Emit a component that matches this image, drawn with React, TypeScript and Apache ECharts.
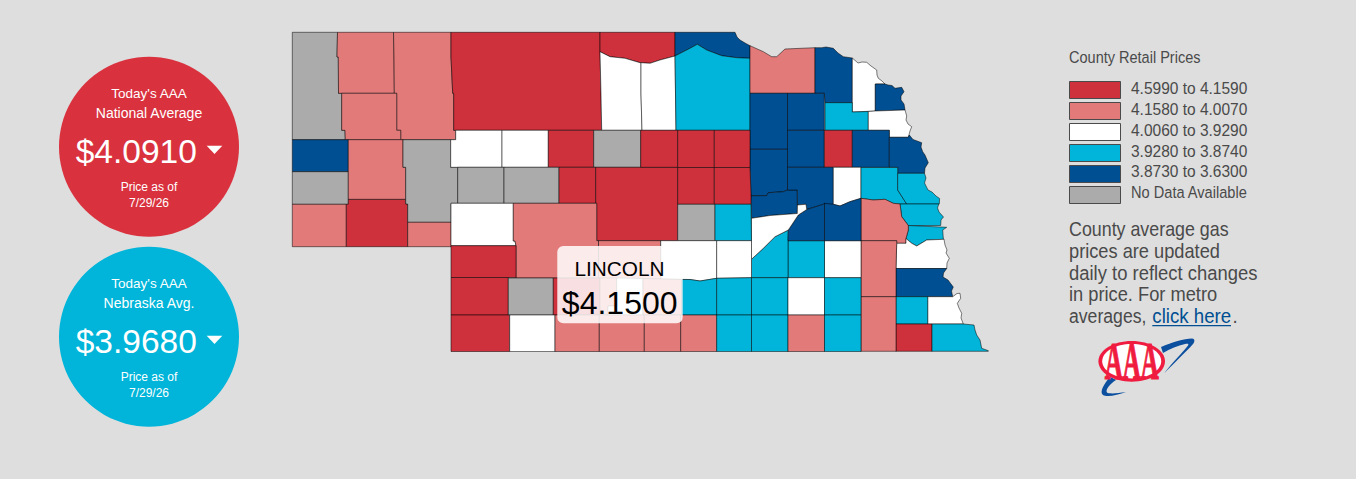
import React, { useEffect, useRef } from "react";
import * as echarts from "echarts";

// ---------- Data ----------
const bandLabels = ["4.5990 to 4.1590", "4.1580 to 4.0070", "4.0060 to 3.9290", "3.9280 to 3.8740", "3.8730 to 3.6300", "No Data Available"];
const bandMax = [4.599, 4.158, 4.006, 3.928, 3.873];
const bandMin = [4.159, 4.007, 3.929, 3.874, 3.63];
const bandColors = ["#CE303C", "#E27A7A", "#FFFFFF", "#00B5D9", "#004F92", "#ABABAB"];

const redCounties = ["Cherry", "Keya Paha", "Cheyenne", "Thomas", "Logan", "Custer", "Loup", "Garfield", "Wheeler", "Valley", "Greeley", "Stanton", "Perkins", "Chase", "Frontier", "Dundy", "Pawnee"];
const redPrices = [4.31, 4.27, 4.22, 4.24, 4.2, 4.26, 4.18, 4.21, 4.19, 4.23, 4.17, 4.2, 4.25, 4.28, 4.19, 4.3, 4.22];
const pinkCounties = ["Dawes", "Sheridan", "Box Butte", "Morrill", "Kimball", "Deuel", "Lincoln", "Dawson", "Gosper", "Kearney", "Red Willow", "Furnas", "Harlan", "Franklin", "Knox", "Saunders", "Lancaster", "Gage", "Thayer"];
const pinkPrices = [4.09, 4.12, 4.06, 4.1, 4.08, 4.04, 4.15, 4.03, 4.05, 4.02, 4.09, 4.07, 4.06, 4.04, 4.05, 4.03, 4.02, 4.05, 4.04];
const whiteCounties = ["Brown", "Rock", "Grant", "Hooker", "Keith", "Buffalo", "Hall", "Merrick", "Phelps", "Hitchcock", "Colfax", "Dixon", "Thurston", "Seward", "Saline", "Cass", "Nemaha"];
const whitePrices = [3.98, 3.97, 3.99, 3.96, 3.98, 3.95, 3.94, 3.96, 3.97, 3.99, 3.95, 3.96, 3.94, 3.97, 3.95, 3.96, 3.98];
const cyanCounties = ["Holt", "Howard", "Wayne", "Dodge", "Washington", "Douglas", "Sarpy", "Hamilton", "York", "Adams", "Clay", "Fillmore", "Saline East", "Webster", "Nuckolls", "Jefferson", "Johnson", "Richardson"];
const cyanPrices = [3.9, 3.91, 3.89, 3.88, 3.9, 3.89, 3.92, 3.91, 3.9, 3.89, 3.88, 3.9, 3.91, 3.92, 3.89, 3.9, 3.88, 3.91];
const navyCounties = ["Scotts Bluff", "Boyd", "Cedar", "Dakota", "Antelope", "Pierce", "Madison", "Cuming", "Burt", "Boone", "Nance", "Platte", "Polk", "Butler", "Otoe"];
const navyPrices = [3.8, 3.84, 3.82, 3.79, 3.85, 3.83, 3.78, 3.81, 3.8, 3.84, 3.83, 3.77, 3.82, 3.81, 3.79];
const noDataCounties = ["Sioux", "Banner", "Garden", "Blaine", "Arthur", "McPherson", "Sherman", "Hayes"];

const nationalAverage = "$4.0910";
const stateAverage = "$3.9680";
const priceDate = "7/29/26";
const hoverCounty = "LINCOLN";
const hoverPrice = "$4.1500";
const paragraphLines = ["County average gas", "prices are updated", "daily to reflect changes", "in price. For metro"];

// ---------- Map geometry (outlines of the counties, in the map's own plane) ----------
const countyOutlines: Record<string, number[][]> = {
  Sioux: [[292.3,32.3],[337.5,32.3],[337,57],[338.3,57],[338.5,93.3],[341.7,93.3],[341.7,130.3],[345,130.3],[345.3,139.7],[292.3,139.7]],
  Dawes: [[337.5,32.3],[393.5,32.3],[394,57],[394.3,93.3],[338.5,93.3],[338.3,57],[337,57]],
  Sheridan: [[393.5,32.3],[451,32.3],[451,57],[452.7,93.3],[453.7,93.3],[453.7,130.3],[455.7,130.3],[455.7,139.7],[400.7,139.7],[400.7,130.3],[396.7,130.3],[396.7,93.3],[394.3,93.3],[394,57]],
  "Box Butte": [[341.7,93.3],[396.7,93.3],[396.7,130.3],[400.7,130.3],[400.7,139.7],[345.3,139.7],[345,130.3],[341.7,130.3]],
  Cherry: [[451,32.3],[600,32.3],[600,51.7],[601,94],[601.7,130.3],[453.7,130.3],[453.7,93.3],[452.7,93.3],[451,57]],
  "Keya Paha": [[600,32.3],[675,32.3],[675,56],[660,60],[650,63.3],[640,62.7],[625,58.3],[610,56.7],[600,51.7]],
  Brown: [[600,51.7],[610,56.7],[625,58.3],[640,62.7],[641,62.7],[641,94],[642,130.3],[601.7,130.3],[601,94]],
  Rock: [[641,62.7],[650,63.3],[660,60],[675,56],[676,130.3],[642,130.3],[641,94]],
  Boyd: [[675,32.3],[735,32.3],[737,37],[740,40],[745,43],[750,45.7],[750,58.3],[736.7,57.7],[721.7,55.7],[706.7,50],[697.3,44.3],[690,48.3],[675,56]],
  Holt: [[675,56],[690,48.3],[697.3,44.3],[706.7,50],[721.7,55.7],[736.7,57.7],[750,58.3],[750,130.3],[676,130.3]],
  Knox: [[750,45.7],[763.3,51.7],[771.7,56.7],[776.7,56.7],[785,49],[815,47.7],[815,93.3],[750,93.3]],
  Cedar: [[815,47.7],[821.7,47.7],[826,47],[833.3,48.3],[838,53],[843.3,56.7],[852.3,58],[852.3,102.7],[825,102.7],[824.3,93.3],[815,93.3]],
  Dixon: [[852.3,58],[858,63],[862,62],[866.7,62.3],[871,66],[876.7,70],[877,75],[878.3,78.3],[882,81],[885,84],[875.3,84],[875.3,111],[852.3,112]],
  Dakota: [[875.3,84],[885,84],[888,85],[892,85.5],[895,88.3],[901.7,87.3],[904,91.7],[901,96],[901,100],[904,104],[905,110],[875.3,111]],
  Wayne: [[825,102.7],[852.3,102.7],[852.3,112],[868.3,111.5],[868.3,130.3],[825,130.3]],
  Thurston: [[868.3,111.5],[875.3,111],[905,110],[906.7,116],[906,120],[908,124],[911.7,126.7],[910,131],[908.3,137.3],[889.3,137.3],[889.3,130.3],[868.3,130.3]],
  Antelope: [[750,93.3],[787.5,93.3],[787.5,149.3],[750,149.3]],
  Pierce: [[787.5,93.3],[824.3,93.3],[824.3,130.3],[787.5,130.3]],
  Madison: [[787.5,130.3],[824.3,130.3],[824.3,167.3],[787.5,167.3]],
  Stanton: [[824.3,130.3],[852.3,130.3],[852.3,167.3],[824.3,167.3]],
  Cuming: [[852.3,130.3],[889.3,130.3],[889.3,167.3],[852.3,167.3]],
  Burt: [[889.3,137.3],[908.3,137.3],[909.3,135],[913,139.5],[921.7,142.7],[921,147],[922.7,151.7],[925,155],[928.3,162.7],[925,168],[924.5,173.3],[897.7,173.3],[897.7,167.3],[889.3,167.3]],
  Boone: [[750,149.3],[787.5,149.3],[787.5,190],[783.3,191.7],[768.3,192.7],[766.7,195.7],[751,195.7],[750,167.5]],
  Nance: [[751,195.7],[766.7,195.7],[768.3,192.7],[783.3,191.7],[787.5,190],[797.3,190],[797.3,213.5],[770,215.5],[751.5,218.3]],
  Platte: [[787.5,167.3],[833.3,167.3],[833.3,204.3],[823.3,204.3],[806.7,209.5],[806,204.3],[797.5,205],[797.3,190],[787.5,190]],
  Colfax: [[833.3,167.3],[861,167.3],[861,198.3],[850,201.7],[840,206],[833.3,204.3]],
  Dodge: [[861,167.5],[897.7,167.5],[897.7,190],[906.7,204],[900,204],[893.3,203.3],[885,199.3],[873.3,200],[861,198.3]],
  Washington: [[897.7,173.3],[924.5,173.3],[926,178],[924.5,183],[928,190],[932,192],[936,196],[939.6,198.5],[939.3,204],[906.7,204],[897.7,190]],
  Douglas: [[900,204],[938.8,204],[937.5,208],[939,212],[943.5,217],[941,220],[940.7,225.5],[908.3,225.5],[901.7,216.7]],
  Sarpy: [[908.3,225.5],[946.7,227.3],[942.7,230],[943.3,238.3],[944,239.3],[926.7,240],[916.7,246],[911.7,243.3],[906,238.5],[908.3,230]],
  Saunders: [[861,198.3],[873.3,200],[885,199.3],[893.3,203.3],[900,204],[901.7,216.7],[908.3,225.5],[908.3,230],[906,238.5],[906,243.3],[896.7,243.3],[896.7,240.7],[861,240.7]],
  Cass: [[896.7,243.3],[906,243.3],[906,238.5],[911.7,243.3],[916.7,246],[926.7,240],[944,239.3],[945,245],[947,250],[946,253],[949.3,258.3],[947,263],[946.7,268.5],[896,268.5]],
  Otoe: [[896,268.5],[946.7,268.5],[943.5,273],[943,277],[948,280],[951,284],[953.3,287],[951.5,291],[952.7,296.7],[896,296.7]],
  Nemaha: [[927.7,296.7],[952.7,296.7],[957,293.5],[960,293.3],[960.7,298.3],[957.3,303.3],[959,308],[961.7,313.3],[961,318],[963.3,324],[927.7,324]],
  Johnson: [[896,296.7],[927.7,296.7],[927.7,324],[896,324]],
  Pawnee: [[896,324],[932,324],[932,351.3],[896,351.3]],
  Richardson: [[932,324],[963.3,324],[974,325],[975,330],[976.7,335],[978,337],[980,340],[981.7,348.3],[988.3,350.7],[988.3,351.3],[932,351.3]],
  Lancaster: [[861,240.7],[896.7,240.7],[896.7,243.3],[896,268.5],[896,296.7],[861,296.7]],
  Gage: [[861,296.7],[896,296.7],[896,351.3],[861,351.3]],
  Seward: [[824.5,240.7],[861,240.7],[861,277.7],[824.5,277.7]],
  York: [[788,240.7],[824.5,240.7],[824.5,277.7],[788,277.7]],
  Hamilton: [[751.5,259.3],[763.3,248.3],[775,236.7],[788.3,230],[788,240.7],[788,277.7],[751.5,277.7]],
  Butler: [[824.5,203.3],[833.3,204.3],[840,206],[850,201.7],[861,198.3],[861,240.7],[824.5,240.7]],
  Polk: [[788.3,230],[798.3,215],[806.7,209.5],[823.3,204.3],[824.5,203.3],[824.5,240.7],[788,240.7]],
  Merrick: [[751.5,218.3],[770,215.5],[797.3,213.5],[797.5,205],[806,204.3],[806.7,209.5],[798.3,215],[788.3,230],[775,236.7],[763.3,248.3],[751.5,259.3]],
  "Scotts Bluff": [[292.3,139.7],[348.3,139.7],[348.3,171.7],[292.3,171.7]],
  Banner: [[292.3,171.7],[348.3,171.7],[348.3,204.3],[292.3,204.3]],
  Kimball: [[292.3,204.3],[346.3,204.3],[346.3,246.7],[292.3,246.7]],
  Cheyenne: [[348.3,199.3],[405.7,199.3],[405.7,204],[407.7,204],[407.7,246.7],[346.3,246.7],[346.3,204.3],[348.3,204.3]],
  Morrill: [[348.3,139.7],[403,139.7],[403,167.3],[405.7,167.3],[405.7,199.3],[348.3,199.3]],
  Garden: [[403,139.7],[450.7,139.7],[450.7,167.3],[457.7,167.3],[457.7,203.3],[451,203.3],[451,222.3],[407.7,222.3],[407.7,204],[405.7,204],[405.7,167.3],[403,167.3]],
  Deuel: [[407.7,222.3],[451,222.3],[451,246.7],[407.7,246.7]],
  Grant: [[455.7,130.3],[502,130.3],[502,167.3],[450.7,167.3],[450.7,139.7],[455.7,139.7]],
  Hooker: [[502,130.3],[548.3,130.3],[548.3,167.3],[502,167.3]],
  Thomas: [[548.3,130.3],[593.7,130.3],[593.7,167.3],[548.3,167.3]],
  Blaine: [[593.7,130.3],[640.7,130.3],[640.7,167.3],[593.7,167.3]],
  Arthur: [[457.7,167.3],[504,167.3],[504,203.3],[457.7,203.3]],
  McPherson: [[504,167.3],[559,167.3],[559,203.3],[504,203.3]],
  Logan: [[559,167.3],[595.7,167.3],[595.7,203.3],[559,203.3]],
  Custer: [[595.7,167.3],[677.7,167.3],[677.7,240.7],[596.7,240.7],[596.7,203.3],[595.7,203.3]],
  Loup: [[640.7,130.3],[677.7,130.3],[677.7,167.3],[640.7,167.3]],
  Garfield: [[677.7,130.3],[714.3,130.3],[714.3,167.5],[677.7,167.5]],
  Wheeler: [[714.3,130.3],[750,130.3],[750,167.5],[714.3,167.5]],
  Valley: [[677.7,167.5],[714.3,167.5],[714.3,204.3],[677.7,204.3]],
  Greeley: [[714.3,167.5],[750,167.5],[751,195.7],[751,204.3],[714.3,204.3]],
  Sherman: [[677.7,204.3],[715,204.3],[715,240.7],[677.7,240.7]],
  Howard: [[715,204.3],[751,204.3],[751.5,240.7],[715,240.7]],
  Keith: [[451,203.3],[513.3,203.3],[513.3,241],[515,241],[516,245.7],[451,245.7]],
  Lincoln: [[513.3,203.3],[596.7,203.3],[596.7,240.7],[598.5,240.7],[598.5,278],[516,278],[516,245.7],[515,241],[513.3,241]],
  Dawson: [[598.5,240.7],[660.7,240.7],[661,279],[598.5,278]],
  Buffalo: [[660.7,240.7],[716.7,240.7],[716.7,278.3],[700,281],[690,279.5],[661,279]],
  Hall: [[716.7,240.7],[751.5,240.7],[751.5,277.7],[716.7,278.3]],
  Perkins: [[451,245.7],[516,245.7],[516,277.5],[451,277.5]],
  Chase: [[451,277.5],[508.3,277.5],[508.3,315],[451,315]],
  Hayes: [[508.3,278],[553.3,278],[553.3,315],[508.3,315]],
  Frontier: [[553.3,278],[600,278],[600,315],[553.3,315]],
  Gosper: [[600,278],[616.7,278],[616.7,306],[608,306],[608,315],[600,315]],
  Phelps: [[616.7,278],[643,278.5],[643,315],[608,315],[608,306],[616.7,306]],
  Kearney: [[643,278.5],[681.7,279.5],[681.7,315],[643,315]],
  Adams: [[681.7,279.5],[690,279.5],[700,281],[716.7,278.3],[716.7,315],[681.7,315]],
  Clay: [[716.7,278.3],[751.5,277.7],[751.5,315],[716.7,315]],
  Fillmore: [[751.5,277.7],[788,277.7],[788,315],[751.5,315]],
  Saline: [[788,277.7],[824.5,277.7],[824.5,315],[788,315]],
  "Saline East": [[824.5,277.7],[861,277.7],[861,315],[824.5,315]],
  Dundy: [[451,315],[509.7,315],[509.7,351.5],[451,351.5]],
  Hitchcock: [[509.7,315],[555,315],[555,351.5],[509.7,351.5]],
  "Red Willow": [[555,315],[599.3,315],[599.3,351.5],[555,351.5]],
  Furnas: [[599.3,315],[644.3,315],[644.3,351.5],[599.3,351.5]],
  Harlan: [[644.3,315],[680.7,315],[680.7,351.5],[644.3,351.5]],
  Franklin: [[680.7,315],[716.7,315],[716.7,351.5],[680.7,351.5]],
  Webster: [[716.7,315],[751.5,315],[751.5,351.5],[716.7,351.5]],
  Nuckolls: [[751.5,315],[788,315],[788,351.5],[751.5,351.5]],
  Thayer: [[788,315],[824.5,315],[824.5,351.5],[788,351.5]],
  Jefferson: [[824.5,315],[861,315],[861,351.5],[824.5,351.5]],
};

const swooshPath =
  "M1161,347 C1172,342 1184,339 1192,338.5 C1195,338.5 1195,342 1193,344 C1186,352 1174,363 1164,373.6 C1173,362 1182,353 1188,345.5 C1189,343.5 1188,343.5 1185,344 C1178,345.5 1170,349 1163,353 Z " +
  "M1110,376.7 C1104,384 1099,392 1103,395 C1107,397.5 1118,395 1126,392 C1117,393.5 1109,394 1107,392.5 C1105,390 1110,384 1116,380 Z";

const INK = "#4A4A4A";
const SANS = '"Liberation Sans", Arial, sans-serif';

function textEl(text: string, x: number, y: number, font: string, fill: string, textAlign = "left") {
  return { type: "text", z: 100, silent: true, style: { text, x, y, font, fill, textAlign, textVerticalAlign: "middle" } };
}

// Condensed text: no condensed face is installed, so the regular face is narrowed.
function narrowText(text: string, x: number, y: number, size: number, fill: string, scaleX: number) {
  return { type: "text", z: 100, silent: true, x, y, scaleX, style: { text, x: 0, y: 0, font: `${size}px ${SANS}`, fill, textAlign: "left", textVerticalAlign: "middle" } };
}

function badge(cy: number, color: string, line1: string, line2: string, price: string) {
  const cx = 149;
  return [
    { type: "circle", z: 50, shape: { cx, cy, r: 90 }, style: { fill: color } },
    textEl(line1, cx, cy - 53.4, `13.5px ${SANS}`, "#FFFFFF", "center"),
    textEl(line2, cx, cy - 33.4, `14px ${SANS}`, "#FFFFFF", "center"),
    textEl(price, 136.3, cy + 5, `33.5px ${SANS}`, "#FFFFFF", "center"),
    { type: "polygon", z: 100, shape: { points: [[206.7, cy - 1], [222.3, cy - 1], [214.5, cy + 7.3]] }, style: { fill: "#FFFFFF" } },
    textEl("Price as of", cx, cy + 40, `12px ${SANS}`, "#FFFFFF", "center"),
    textEl(priceDate, cx, cy + 56, `12px ${SANS}`, "#FFFFFF", "center"),
  ];
}

export default function App() {
  const ref = useRef<HTMLDivElement>(null);
  useEffect(() => {
    document.body.style.margin = "0";
    document.body.style.background = "#DEDEDE";
    const features = Object.keys(countyOutlines).map((name) => ({
      type: "Feature",
      properties: { name },
      geometry: { type: "Polygon", coordinates: [[...countyOutlines[name], countyOutlines[name][0]]] },
    }));
    echarts.registerMap("nebraska", { type: "FeatureCollection", features } as any);
    echarts.graphic.registerShape("aaaSwoosh", echarts.graphic.extendPath(swooshPath, {}) as any);

    const all = Object.values(countyOutlines).flat();
    const xs = all.map((p) => p[0]);
    const ys = all.map((p) => p[1]);
    const minX = Math.min(...xs), maxX = Math.max(...xs), minY = Math.min(...ys), maxY = Math.max(...ys);

    const toData = (names: string[], prices: number[]) => names.map((name, i) => ({ name, value: prices[i] }));
    const mapData = [
      ...toData(redCounties, redPrices),
      ...toData(pinkCounties, pinkPrices),
      ...toData(whiteCounties, whitePrices),
      ...toData(cyanCounties, cyanPrices),
      ...toData(navyCounties, navyPrices),
      ...noDataCounties.map((name) => ({ name, value: NaN })),
    ];

    const legendEls: any[] = [narrowText("County Retail Prices", 1069, 57.5, 17, INK, 0.855)];
    bandLabels.forEach((label, i) => {
      const y = 81.5 + i * 21;
      legendEls.push({ type: "rect", z: 100, shape: { x: 1069.5, y, width: 51, height: 17 }, style: { fill: bandColors[i], stroke: INK, lineWidth: 1 } });
      legendEls.push(narrowText(label, 1131, 88.3 + i * 20.85, 16.5, INK, i === 5 ? 0.885 : 0.94));
    });

    const paragraphScales = [0.85, 0.868, 0.878, 0.87];
    const paragraphEls: any[] = paragraphLines.map((line, i) => narrowText(line, 1069, 228.5 + i * 21.8, 21, INK, paragraphScales[i]));
    paragraphEls.push(narrowText("averages,", 1069, 315.8, 21, INK, 0.84));
    paragraphEls.push(narrowText("click here", 1152.3, 315.8, 21, "#004F92", 0.89));
    paragraphEls.push(narrowText(".", 1232.5, 315.8, 21, INK, 0.89));
    paragraphEls.push({ type: "line", z: 100, shape: { x1: 1152.3, y1: 325.7, x2: 1231, y2: 325.7 }, style: { stroke: "#004F92", lineWidth: 1.3 } });

    const logoEls: any[] = [
      { type: "aaaSwoosh", z: 90, style: { fill: "#0B4F9E" } },
      { type: "ellipse", z: 95, shape: { cx: 1131.7, cy: 361.3, rx: 33.3, ry: 20.4 }, style: { fill: "#F01C40" } },
      { type: "ellipse", z: 96, shape: { cx: 1131.7, cy: 361.3, rx: 29.5, ry: 17.2 }, style: { fill: "#FFFFFF" } },
      { type: "text", z: 100, silent: true, x: 1131.7, y: 361.5, scaleX: 0.48, style: { text: "AAA", x: 0, y: 0, font: `bold 52px "Liberation Serif", serif`, fill: "#F01C40", stroke: "#F01C40", lineWidth: 1.2, textAlign: "center", textVerticalAlign: "middle" } },
    ];

    const hoverEls: any[] = [
      { type: "rect", z: 99, shape: { x: 557.3, y: 246, width: 125.4, height: 77.3, r: 6 }, style: { fill: "rgba(255,255,255,0.85)" } },
      textEl(hoverCounty, 619.5, 268.5, `20.8px ${SANS}`, "#000000", "center"),
      textEl(hoverPrice, 619.7, 302.5, `32px ${SANS}`, "#000000", "center"),
    ];

    const chart = echarts.init(ref.current!, undefined, { renderer: "svg" });
    chart.setOption({
      animation: false,
      backgroundColor: "#DEDEDE",
      tooltip: { show: false },
      visualMap: {
        show: false,
        type: "piecewise",
        seriesIndex: 0,
        pieces: bandLabels.slice(0, 5).map((_, i) => ({ min: bandMin[i], max: bandMax[i], color: bandColors[i] })),
      },
      series: [
        {
          type: "map",
          map: "nebraska",
          silent: true,
          selectedMode: false,
          roam: false,
          projection: { project: (p: number[]) => p, unproject: (p: number[]) => p },
          left: minX,
          top: minY,
          width: maxX - minX,
          height: maxY - minY,
          label: { show: false },
          itemStyle: { areaColor: bandColors[5], borderColor: "rgba(0,0,0,0.5)", borderWidth: 1 },
          emphasis: { disabled: true },
          data: mapData,
        },
      ],
      graphic: {
        elements: [
          ...badge(146.7, "#D9323E", "Today's AAA", "National Average", nationalAverage),
          ...badge(336.7, "#00B5D9", "Today's AAA", "Nebraska Avg.", stateAverage),
          ...legendEls,
          ...paragraphEls,
          ...logoEls,
          ...hoverEls,
        ],
      },
    });
    return () => chart.dispose();
  }, []);
  return <div ref={ref} style={{ width: 1356, height: 479 }} />;
}
